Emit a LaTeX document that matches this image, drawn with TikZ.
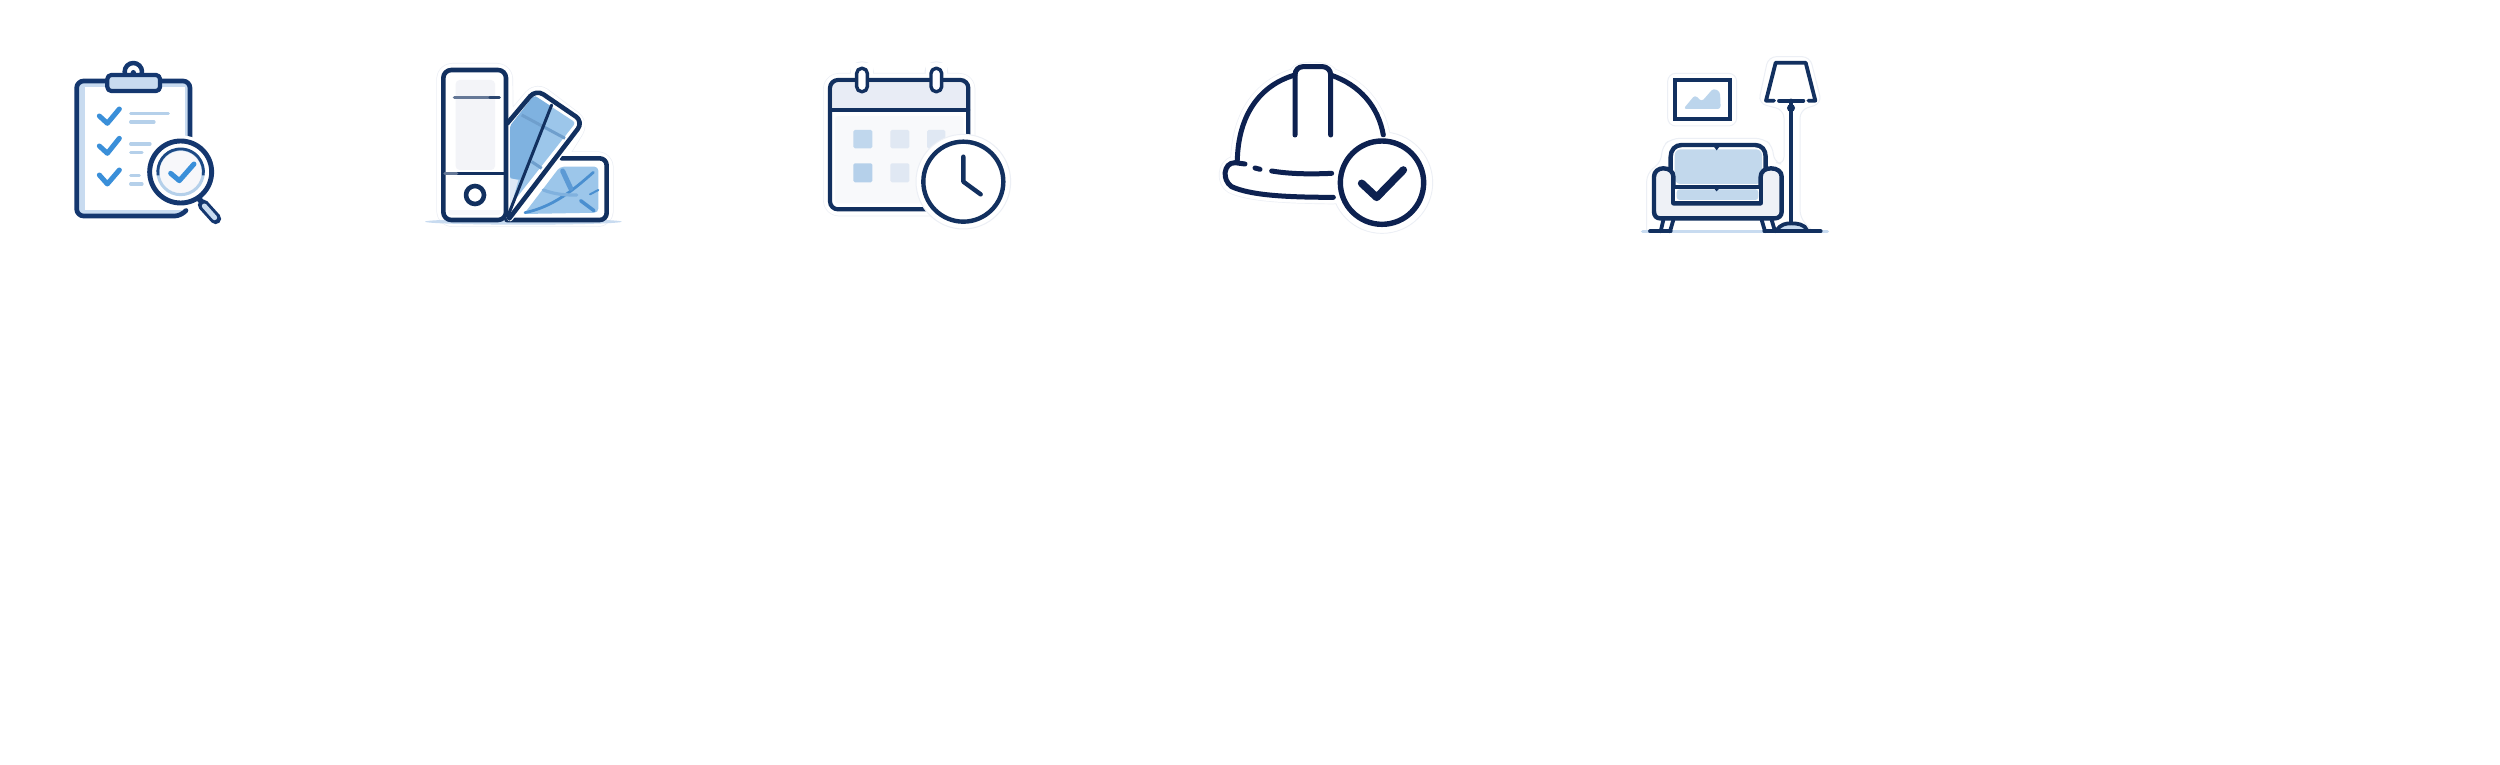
\documentclass[tikz,border=0pt]{standalone}
\definecolor{navyA}{HTML}{14376F}
\definecolor{navyB}{HTML}{0D2150}
\definecolor{navyC}{HTML}{12305F}
\definecolor{bluechk}{HTML}{3A8FD9}
\definecolor{paleA}{HTML}{C8DBF0}
\definecolor{paleB}{HTML}{B5D0EA}
\definecolor{hedge}{HTML}{ECEFF5}
\definecolor{greyA}{HTML}{F3F4F8}
\definecolor{midblue}{HTML}{7FB2E0}
\definecolor{ltblue}{HTML}{9CC6EA}
\definecolor{strong}{HTML}{4A8FD0}
\definecolor{headfill}{HTML}{E8ECF5}
\definecolor{sofa}{HTML}{EEF1F6}
\definecolor{sofab}{HTML}{C2D8EC}
\tikzset{
  zoomed/.style={x=0.33333pt,y=-0.33333pt,line cap=round,line join=round},
  haloout/.style={draw=hedge,line width=14pt},
  haloin/.style={draw=white,fill=white,line width=12.6pt},
  chk/.style={draw=bluechk,line width=5pt,line cap=round,line join=round},
  thinbar/.style={draw=paleB,line width=3.2pt,line cap=round},
  ink/.style={line width=#1,line cap=round,line join=round},
}
\begin{document}
\begin{tikzpicture}
\useasboundingbox[fill=white] (0,0) rectangle (2500pt,-765pt);

% --- clipboard ---
\begin{scope}[shift={(50pt,-40pt)},zoomed]
  \fill[paleA,rounded corners=6pt] (80,123)--(420,123)--(420,400)--(400,528)--(80,528)--cycle;
  \fill[white] (105,140) rectangle (405,510);
  \draw[navyA,ink=4.7pt,rounded corners=7pt] (420,320)--(420,123)--(80,123)--(80,528)--(395,528)--(405,515);
  \draw[navyA,ink=4.5pt,fill=white] (250,95) circle (26);
  \fill[navyA] (250,98) circle (8);
  \draw[navyA,ink=4.2pt,fill=paleA,rounded corners=4pt] (172,105) rectangle (330,153);
  \draw[chk] (148,228)--(172,250)--(208,207);
  \draw[chk] (148,318)--(172,340)--(208,295);
  \draw[chk] (148,405)--(172,432)--(208,390);
  \draw[thinbar] (242,220)--(355,220);
  \draw[thinbar] (242,246)--(312,246);
  \draw[thinbar] (242,312)--(300,312);
  \draw[thinbar] (242,338)--(276,338);
  \draw[thinbar] (242,406)--(268,406);
  \draw[thinbar] (242,432)--(276,432);
  \fill[white] (392,396) circle (110);
  \draw[white,line width=17pt] (448,478)--(497,536);
  \draw[navyA,line width=5.5pt,line cap=butt] (445,474)--(460,492);
  \draw[navyA,line width=11pt,line cap=round] (460,495)--(497,536);
  \draw[paleA,line width=5pt,line cap=round] (463,498)--(494,533);
  \fill[white] (392,396) circle (96);
  \draw[navyA,ink=4.9pt] (392,396) circle (93);
  \fill[greyA!70!white] (392,396) circle (68);
  \draw[paleB,line width=3pt] (392,396) circle (68);
  \draw[navyA!80!bluechk,line width=2.8pt,line cap=butt] (324.3,406) arc (171:369:68.5);
  \draw[chk] (362,400)--(388,422)--(432,372);
\end{scope}

% --- swatch fan ---
\begin{scope}[shift={(410pt,-40pt)},zoomed]
  \draw[haloout,rounded corners=9pt] (290,540)--(590,540)--(590,355)--(450,355)--(515,250)--(380,148)--(290,255)--(288,90)--(100,90)--(100,540)--cycle;
  \draw[haloin,rounded corners=9pt] (290,540)--(590,540)--(590,355)--(450,355)--(515,250)--(380,148)--(290,255)--(288,90)--(100,90)--(100,540)--cycle;
  \fill[paleA] (340,545) ellipse (295 and 9);
  % back card
  \fill[ltblue,rounded corners=4pt] (342,522)--(450,380)--(565,380)--(565,518)--cycle;
  \draw[strong,line width=2.8pt,line cap=round] (345,518)..controls (430,500) and (490,450)..(550,397);
  \draw[strong!90!white,line width=5pt,line cap=round] (458,393)--(482,445);
  \draw[strong!70!white,line width=3.2pt,line cap=round] (400,450)..controls (440,465) and (470,465)..(500,465);
  \draw[strong,line width=3.5pt,line cap=round] (512,482)--(552,512);
  \draw[strong,line width=2pt,line cap=round] (540,463)--(565,450);
  \draw[navyC,ink=4.6pt,rounded corners=7pt] (455,355)--(590,355)--(590,540)--(290,540);
  % middle card
  \fill[white] (290,535)--(290,250)--(365,148)--(520,250)--cycle;
  \draw[white,line width=6pt] (520,250)--(300,535);
  \fill[ltblue,rounded corners=3pt] (372,166)--(497,248)--(305,492)--(300,400)--(300,258)--cycle;
  \fill[midblue,rounded corners=2pt] (300,258)--(372,166)--(425,200)--(340,420)--(300,415)--cycle;
  \fill[paleA!60!white] (300,415)--(325,420)--(300,510)--cycle;
  \draw[midblue!85!navyC,line width=3pt,line cap=butt] (335,225)--(465,295);
  \draw[midblue!85!navyC,line width=3pt,line cap=butt] (365,365)--(395,385);
  \draw[navyC,ink=3pt] (425,195)--(293,530);
  \draw[navyC,ink=4.6pt,rounded corners=9pt] (292,250)--(378,148)--(520,245)--(298,535);
  % left panel
  \draw[navyC,ink=4.6pt,fill=white,rounded corners=8pt] (100,90) rectangle (288,540);
  \fill[greyA,rounded corners=4pt] (137,120) rectangle (255,390);
  \fill[greyA!60!white,rounded corners=3pt] (115,410) rectangle (272,525);
  \fill[white] (115,410) rectangle (272,510);
  \draw[navyC!65!white,line width=3.2pt,line cap=round] (133,173)--(240,173);
  \draw[navyC!90!white,line width=3.2pt,line cap=round] (240,173)--(268,173);
  \draw[navyC,line width=3.4pt] (105,400)--(285,400);
  \draw[navyC!65!white,line width=3.4pt] (105,400)--(140,400);
  \draw[navyC,ink=4.6pt,fill=white] (195,465) circle (27);
\end{scope}

% --- calendar ---
\begin{scope}[shift={(810pt,-40pt)},zoomed]
  \draw[hedge,line width=1pt,fill=white,rounded corners=10pt] (122,66) rectangle (190,140);
  \draw[hedge,line width=1pt,fill=white,rounded corners=10pt] (345,66) rectangle (413,140);
  \draw[haloout,rounded corners=9pt] (60,120) rectangle (475,508);
  \draw[haloin,rounded corners=9pt] (60,120) rectangle (475,508);
  \fill[white] (124,68) rectangle (188,130);
  \fill[white] (347,68) rectangle (411,130);
  \fill[greyA!55!white,rounded corners=3pt] (75,228) rectangle (460,490);
  \fill[headfill] (68,130) rectangle (467,207);
  \fill[paleB!85!white,rounded corners=1.5pt] (130,270) rectangle (187,325);
  \fill[headfill!85!paleB,rounded corners=1.5pt] (241,270) rectangle (298,325);
  \fill[headfill!85!paleB,rounded corners=1.5pt] (351,270) rectangle (406,325);
  \fill[paleB,rounded corners=1.5pt] (130,370) rectangle (187,427);
  \fill[headfill!85!paleB,rounded corners=1.5pt] (241,370) rectangle (298,427);
  \draw[navyC,ink=4.2pt,rounded corners=8pt] (60,120) rectangle (475,508);
  \draw[navyC,line width=3.8pt] (60,210)--(475,210);
  \draw[navyC,ink=3.4pt,fill=white,rounded corners=5pt] (140,85) rectangle (172,155);
  \draw[navyC,ink=3.4pt,fill=white,rounded corners=5pt] (363,85) rectangle (395,155);
  \fill[white] (460,425) circle (142);
  \draw[hedge,line width=1pt] (460,425) circle (142);
  \draw[navyC,ink=4.4pt,fill=white] (460,425) circle (120);
  \draw[navyC,ink=4.4pt] (460,350)--(460,425)--(512,463);
\end{scope}

% --- helmet ---
\begin{scope}[shift={(1200pt,-40pt)},zoomed]
  \draw[haloout] (112,360)..controls (115,225) and (180,135)..(285,105)..controls (290,80) and (385,80)..(395,105)..controls (480,135) and (535,200)..(550,285)--(546,428)--(400,472)..controls (250,470) and (150,465)..(95,440)..controls (70,425) and (70,375)..(105,368)--cycle;
  \draw[hedge,line width=1pt,fill=white] (546,428) circle (152);
  \draw[haloin] (112,360)..controls (115,225) and (180,135)..(285,105)..controls (290,80) and (385,80)..(395,105)..controls (480,135) and (535,200)..(550,285)--(546,428)--(400,472)..controls (250,470) and (150,465)..(95,440)..controls (70,425) and (70,375)..(105,368)--cycle;
  \fill[white] (546,428) circle (150);
  \draw[navyB,ink=5pt] (112,360)..controls (115,225) and (180,135)..(285,105);
  \draw[navyB,ink=5pt] (392,105)..controls (480,135) and (535,200)..(550,285);
  \draw[navyB,ink=5pt,rounded corners=8pt] (285,285)--(285,80)--(392,80)--(392,285);
  \draw[navyB,ink=5pt] (135,372)--(105,368)..controls (70,368) and (65,420)..(95,440)..controls (150,465) and (250,472)..(400,472);
  \draw[navyB,ink=5pt] (165,384)--(180,388);
  \draw[navyB,ink=5pt] (215,393)..controls (270,402) and (330,403)..(395,400);
  \fill[white] (546,428) circle (136);
  \draw[navyB,ink=5.4pt,fill=white] (546,428) circle (125);
  \draw[navyB,ink=7.6pt] (485,430)--(530,472)--(610,390);
\end{scope}

% --- sofa and lamp ---
\begin{scope}[shift={(1630pt,-40pt)},zoomed]
  \draw[hedge,line width=1pt,rounded corners=8pt] (113,100) rectangle (320,258);
  \draw[hedge,line width=1pt,rounded corners=8pt] (50,570)--(50,400)--(95,365)--(95,320)--(125,295)--(400,295)--(430,320)--(430,365)--(462,375)--(462,210)--(385,190)--(415,50)--(540,50)--(575,190)--(510,210)--(510,535)--(545,570);
  % floor
  \draw[paleA,line width=3.5pt,line cap=round] (38,574)--(592,574);
  % frame
  \draw[navyC,line width=3.8pt,fill=white,line join=miter] (135,120) rectangle (300,238);
  \fill[paleB!90!white,rounded corners=3pt] (160,207)--(195,165)--(215,185)--(250,145)--(270,155)--(272,207)--cycle;
  % lamp
  \draw[navyC,ink=3.8pt] (432,182)--(408,182)--(437,68)--(527,68)--(556,182)--(535,182);
  \draw[navyC,ink=3.8pt] (447,182)--(520,182);
  \draw[navyC,ink=4.2pt] (483,182)--(483,555);
  \fill[navyC] (483,204) circle (12);
  \draw[navyC,ink=3.8pt,fill=paleA] (440,572)..controls (450,552) and (470,550)..(483,550)..controls (500,550) and (525,552)..(532,572);
  % legs
  \draw[navyC,ink=3.8pt] (100,540)--(92,574);
  \draw[navyC,ink=3.8pt] (130,540)--(120,574);
  \draw[navyC,ink=3.8pt] (395,540)--(405,574);
  \draw[navyC,ink=3.8pt] (425,540)--(435,574);
  \draw[navyC,line width=3.8pt,line cap=round] (60,574)--(122,574);
  \draw[navyC,line width=3.8pt,line cap=round] (403,574)--(572,574);
  % sofa back
  \draw[navyC,ink=4.4pt,fill=white] (122,395)--(122,350)..controls (122,330) and (135,315)..(155,315)--(375,315)..controls (395,315) and (407,330)..(407,350)--(407,395)--(392,490)--(130,490)--cycle;
  \fill[sofab,rounded corners=6pt] (134,328) rectangle (396,432);
  \fill[navyC] (250,318)--(270,318)--(260,331)--cycle;
  % body and arms
  \fill[sofa] (72,410)..controls (72,395) and (85,385)..(100,385)..controls (118,385) and (130,395)..(130,410)--(130,490)--(392,490)--(392,410)..controls (392,395) and (405,385)..(423,385)..controls (442,385) and (455,395)..(455,410)--(455,515)..controls (455,528) and (445,535)..(435,535)--(90,535)..controls (80,535) and (72,528)..(72,515)--cycle;
  \draw[navyC,ink=4.4pt] (72,410)..controls (72,395) and (85,385)..(100,385)..controls (118,385) and (130,395)..(130,410)--(130,490)--(392,490)--(392,410)..controls (392,395) and (405,385)..(423,385)..controls (442,385) and (455,395)..(455,410)--(455,515)..controls (455,528) and (445,535)..(435,535)--(90,535)..controls (80,535) and (72,528)..(72,515)--cycle;
  % cushion
  \fill[white] (136,444) rectangle (386,484);
  \fill[sofab,rounded corners=3pt] (140,448) rectangle (385,480);
  \draw[navyC,line width=3.8pt] (130,440)--(392,440);
  \fill[navyC] (250,443)--(270,443)--(260,454)--cycle;
\end{scope}
\end{tikzpicture}
\end{document}
